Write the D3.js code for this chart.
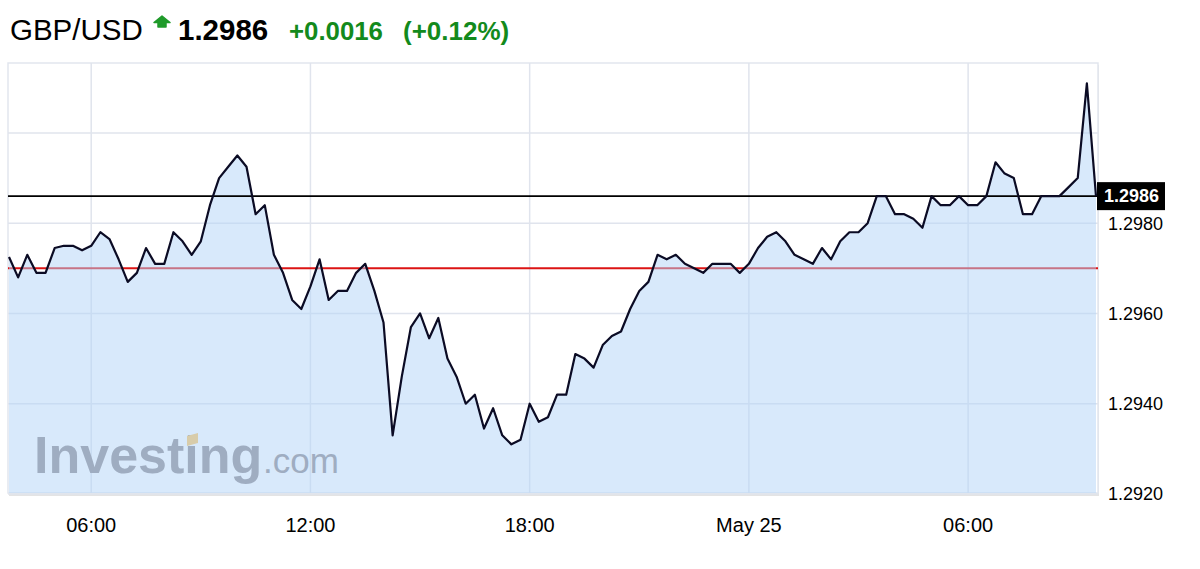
<!DOCTYPE html>
<html>
<head>
<meta charset="utf-8">
<title>GBP/USD</title>
<script src="https://cdn.jsdelivr.net/npm/d3@7"></script>
<style>
	body { margin: 0; background: #fff; }
	svg { display: block; font-family: "Liberation Sans", Arial, sans-serif; }
</style>
</head>
<body>
<svg id="chart" width="1200" height="569"></svg>
<script>
// quote header
const pairName = "GBP/USD";
const lastPrice = 1.2986;
const prevClose = 1.2970;
const changeText = "+0.0016";
const changePctText = "(+0.12%)";

// 15 minute closes, from May 24 03:45 to May 25 09:30
const startTime = "2017-05-24T03:45:00";
const stepMinutes = 15;
const closes = [
	1.29725, 1.2968, 1.2973, 1.2969, 1.2969, 1.29745, 1.2975, 1.2975, 1.2974, 1.2975,
	1.2978, 1.29765, 1.2972, 1.2967, 1.2969, 1.29745, 1.2971, 1.2971, 1.2978, 1.2976,
	1.2973, 1.2976, 1.2984, 1.2990, 1.29925, 1.2995, 1.29925, 1.2982, 1.2984, 1.2973,
	1.2969, 1.2963, 1.2961, 1.2966, 1.2972, 1.2963, 1.2965, 1.2965, 1.2969, 1.2971,
	1.2965, 1.2958, 1.2933, 1.2946, 1.2957, 1.2960, 1.29545, 1.2959, 1.2950, 1.2946,
	1.2940, 1.2942, 1.29345, 1.2939, 1.2933, 1.2931, 1.2932, 1.2940, 1.2936, 1.2937,
	1.2942, 1.2942, 1.2951, 1.2950, 1.2948, 1.2953, 1.2955, 1.2956, 1.2961, 1.2965,
	1.2967, 1.2973, 1.2972, 1.2973, 1.2971, 1.2970, 1.2969, 1.2971, 1.2971, 1.2971,
	1.2969, 1.2971, 1.29745, 1.2977, 1.2978, 1.2976, 1.2973, 1.2972, 1.2971, 1.29745,
	1.2972, 1.2976, 1.2978, 1.2978, 1.2980, 1.2986, 1.2986, 1.2982, 1.2982, 1.2981,
	1.2979, 1.2986, 1.2984, 1.2984, 1.2986, 1.2984, 1.2984, 1.2986, 1.29935, 1.2991,
	1.2990, 1.2982, 1.2982, 1.2986, 1.2986, 1.2986, 1.2988, 1.2990, 1.3011, 1.2986
];

// axes
const xTickTimes = ["2017-05-24T06:00:00", "2017-05-24T12:00:00", "2017-05-24T18:00:00", "2017-05-25T00:00:00", "2017-05-25T06:00:00"];
const xTickLabels = ["06:00", "12:00", "18:00", "May 25", "06:00"];
const yGridValues = [1.2920, 1.2940, 1.2960, 1.2980, 1.3000];
const yTickLabels = [1.2920, 1.2940, 1.2960, 1.2980];
const yDomain = [1.2920, 1.30155];

function whenDocumentLoaded(action) {
	if (document.readyState === "loading") {
		document.addEventListener("DOMContentLoaded", action);
	} else {
		action();
	}
}

function drawChart() {
	const svg = d3.select("#chart");

	// plot panel box
	const left = 8, right = 1098, top = 63, bottom = 493;

	const parse = d3.isoParse;
	const t0 = parse(startTime);
	const data = closes.map((v, i) => ({ t: d3.timeMinute.offset(t0, i * stepMinutes), v: v }));

	const x = d3.scaleTime()
		.domain([data[0].t, data[data.length - 1].t])
		.range([9, 1096]);
	const y = d3.scaleLinear().domain(yDomain).range([494, top]);

	// header
	const head = svg.append("g").attr("class", "header");
	head.append("text").attr("x", 10).attr("y", 40)
		.attr("font-size", 29.5).attr("fill", "#000").text(pairName);
	head.append("path")
		.attr("d", "M162,16 L170,22.5 L166,22.5 L166,27 L158,27 L158,22.5 L154,22.5 Z")
		.attr("fill", "#1f9a2a").attr("stroke", "#1f9a2a").attr("stroke-linejoin", "round").attr("stroke-width", 1.5);
	head.append("text").attr("x", 178).attr("y", 40)
		.attr("font-size", 29.5).attr("font-weight", "bold").attr("fill", "#000")
		.text(d3.format(".4f")(lastPrice));
	head.append("text").attr("x", 289).attr("y", 40)
		.attr("font-size", 25.8).attr("font-weight", "bold").attr("fill", "#138a1c").text(changeText);
	head.append("text").attr("x", 403).attr("y", 40)
		.attr("font-size", 26).attr("font-weight", "bold").attr("fill", "#138a1c").text(changePctText);

	// panel shadow + background
	svg.append("rect")
		.attr("x", left + 1).attr("y", top + 2)
		.attr("width", right - left).attr("height", bottom - top + 1)
		.attr("fill", "#e4e4e4");
	svg.append("rect")
		.attr("x", left).attr("y", top)
		.attr("width", right - left).attr("height", bottom - top)
		.attr("fill", "#fff")
		.attr("stroke", "#e2e6ee").attr("stroke-width", 1.5);

	// gridlines
	const grid = svg.append("g").attr("class", "grid")
		.attr("stroke", "#e0e4ed").attr("stroke-width", 1.5);
	grid.selectAll("line.h").data(yGridValues).join("line")
		.attr("class", "h")
		.attr("x1", left).attr("x2", right)
		.attr("y1", d => y(d)).attr("y2", d => y(d));
	grid.selectAll("line.v").data(xTickTimes).join("line")
		.attr("class", "v")
		.attr("x1", d => x(parse(d))).attr("x2", d => x(parse(d)))
		.attr("y1", top).attr("y2", bottom);

	// previous close (red), sits under the translucent fill
	svg.append("line")
		.attr("x1", left).attr("x2", right)
		.attr("y1", y(prevClose)).attr("y2", y(prevClose))
		.attr("stroke", "#dc1414").attr("stroke-width", 2);

	// area under the price
	const area = d3.area()
		.x(d => x(d.t))
		.y0(bottom)
		.y1(d => y(d.v));
	svg.append("path").datum(data)
		.attr("d", area)
		.attr("fill", "rgb(178,212,248)").attr("fill-opacity", 0.5);

	// watermark
	const wm = svg.append("g").attr("class", "watermark").attr("fill", "#9fadc1");
	wm.append("text").attr("x", 34).attr("y", 473)
		.attr("font-size", 52).attr("font-weight", "bold")
		.text("Investing");
	wm.append("text").attr("x", 263).attr("y", 473)
		.attr("font-size", 35).text(".com");
	wm.append("path")
		.attr("d", "M187,436 L198,433 L198,443 L187,446 Z")
		.attr("fill", "#d8ccaa");

	// last price line
	svg.append("line")
		.attr("x1", left).attr("x2", 1097)
		.attr("y1", y(lastPrice)).attr("y2", y(lastPrice))
		.attr("stroke", "#000").attr("stroke-width", 1.8);

	// price line
	const line = d3.line()
		.x(d => x(d.t))
		.y(d => y(d.v));
	svg.append("path").datum(data)
		.attr("d", line)
		.attr("fill", "none")
		.attr("stroke", "#0b0b24")
		.attr("stroke-width", 2.2)
		.attr("stroke-linejoin", "round");

	// y labels on the right
	svg.append("g").attr("class", "y-labels")
		.selectAll("text").data(yTickLabels).join("text")
		.attr("x", 1108)
		.attr("y", d => y(d))
		.attr("dy", "0.35em")
		.attr("font-size", 18)
		.attr("fill", "#000")
		.text(d => d3.format(".4f")(d));

	// current price box
	const py = y(lastPrice);
	svg.append("rect")
		.attr("x", 1097).attr("y", py - 14)
		.attr("width", 68).attr("height", 28)
		.attr("fill", "#000");
	svg.append("text")
		.attr("x", 1104).attr("y", py).attr("dy", "0.35em")
		.attr("font-size", 18).attr("font-weight", "bold").attr("fill", "#fff")
		.text(d3.format(".4f")(lastPrice));

	// x labels
	svg.append("g").attr("class", "x-labels")
		.selectAll("text").data(xTickTimes).join("text")
		.attr("x", d => x(parse(d)))
		.attr("y", 525)
		.attr("dy", "0.35em")
		.attr("text-anchor", "middle")
		.attr("font-size", 20)
		.attr("fill", "#000")
		.text((d, i) => xTickLabels[i]);
}

whenDocumentLoaded(drawChart);
</script>
</body>
</html>
